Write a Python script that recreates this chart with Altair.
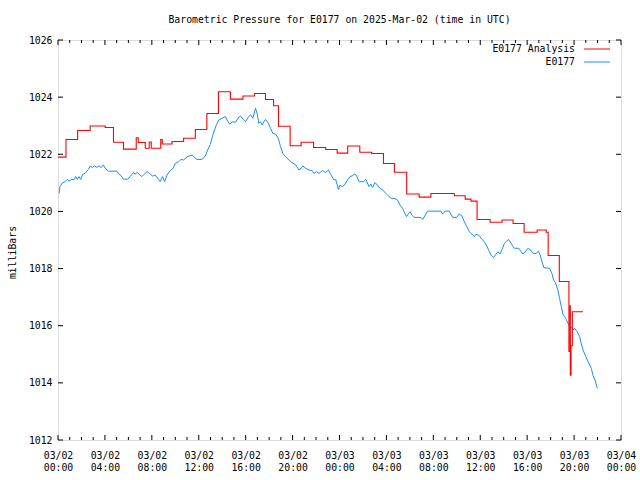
import altair as alt
import pandas as pd

FONT = "DejaVu Sans Mono"
FS = 9.8
BASE = pd.Timestamp("2025-03-02T00:00:00Z").value // 10**6
HOUR = 3600000

# E0177 Analysis (step series): hours after 03/02 00:00 UTC, pressure in mb
red_hours = [0, 0.68, 1.67, 2.74, 4.02, 4.73, 5.58, 6.67, 6.84, 7.44, 7.78, 7.95,
             8.76, 8.89, 9.72, 10.71, 11.71, 12.69, 13.68, 14.70, 15.77, 16.75,
             17.69, 18.38, 18.80, 19.79, 20.73, 21.79, 22.82, 23.80, 24.70, 25.73,
             26.75, 27.75, 28.68, 29.73, 30.79, 31.79, 33.79, 34.72, 35.21, 35.73,
             36.84, 37.86, 38.80, 39.74, 40.85, 41.62, 41.79, 42.74, 43.56, 43.66,
             43.68, 43.74, 43.85, 44.76]
red_p = [1021.90, 1022.52, 1022.83, 1022.99, 1022.94, 1022.42, 1022.18, 1022.58,
         1022.41, 1022.21, 1022.43, 1022.21, 1022.52, 1022.36, 1022.45, 1022.56,
         1022.87, 1023.43, 1024.19, 1023.93, 1024.04, 1024.13, 1023.92, 1023.70,
         1022.98, 1022.30, 1022.42, 1022.24, 1022.17, 1022.04, 1022.29, 1022.07,
         1022.03, 1021.68, 1021.37, 1020.61, 1020.50, 1020.63, 1020.55, 1020.43,
         1020.36, 1019.72, 1019.62, 1019.70, 1019.58, 1019.27, 1019.35, 1019.27,
         1018.46, 1017.55, 1015.10, 1016.70, 1014.27, 1015.30, 1016.49, 1016.49]

# E0177 observations
blue_hours = [0.09, 0.17, 0.37, 0.60, 0.79, 0.94, 1.17, 1.39, 1.51, 1.65, 1.79, 1.94,
              2.11, 2.31, 2.59, 2.74, 2.93, 3.10, 3.31, 3.50, 3.68, 3.87, 4.02, 4.30,
              5.02, 5.15, 5.38, 5.58, 5.96, 6.15, 6.44, 6.58, 6.73, 6.92, 7.15, 7.29,
              7.58, 7.80, 8.06, 8.29, 8.57, 8.72, 8.91, 9.09, 9.29, 9.57, 9.80, 10.00,
              10.28, 10.49, 10.71, 11.05, 11.43, 11.65, 11.85, 12.28, 12.56, 12.76,
              12.99, 13.22, 13.48, 13.70, 13.99, 14.27, 14.42, 14.64, 14.85, 15.13,
              15.41, 15.56, 15.79, 15.98, 16.26, 16.41, 16.61, 16.84, 16.98, 17.12,
              17.26, 17.41, 17.55, 17.69, 17.92, 18.12, 18.32, 18.55, 18.78, 18.97,
              19.17, 19.40, 19.83, 20.26, 20.54, 20.77, 20.88, 21.11, 21.39, 21.68,
              21.82, 22.03, 22.25, 22.54, 22.82, 23.05, 23.25, 23.53, 23.68, 23.91,
              24.04, 24.25, 24.47, 24.68, 24.90, 25.10, 25.32, 25.47, 25.67, 26.04,
              26.24, 26.52, 26.67, 26.81, 27.03, 27.24, 27.46, 27.67, 27.89, 28.09,
              28.38, 28.66, 28.95, 29.17, 29.38, 29.57, 29.72, 29.89, 30.03, 30.17,
              30.37, 30.94, 31.09, 31.37, 31.51, 32.65, 32.79, 32.99, 33.36, 33.65,
              33.99, 34.21, 34.44, 34.64, 34.85, 35.07, 35.30, 35.50, 35.64, 35.87,
              36.15, 36.35, 36.56, 36.73, 36.92, 37.12, 37.29, 37.50, 37.69, 37.86,
              38.06, 38.21, 38.40, 38.55, 38.72, 38.91, 39.29, 39.49, 39.63, 39.85,
              40.06, 40.28, 40.49, 40.77, 40.97, 41.11, 41.26, 41.43, 41.91, 42.11,
              42.25, 42.42, 42.62, 42.76, 42.91, 43.05, 43.19, 43.33, 43.48, 43.62,
              43.82, 43.91, 44.04, 44.27, 44.47, 44.62, 44.76, 44.98, 45.19, 45.47,
              45.61, 45.81, 45.98]
blue_p = [1020.63, 1020.87, 1021.00, 1021.04, 1021.12, 1021.06, 1021.12, 1021.12,
          1021.22, 1021.12, 1021.22, 1021.12, 1021.30, 1021.33, 1021.47, 1021.59,
          1021.54, 1021.60, 1021.54, 1021.60, 1021.53, 1021.63, 1021.51, 1021.41,
          1021.41, 1021.33, 1021.25, 1021.13, 1021.13, 1021.22, 1021.36, 1021.30,
          1021.37, 1021.30, 1021.22, 1021.28, 1021.39, 1021.33, 1021.24, 1021.27,
          1021.12, 1021.04, 1021.22, 1021.04, 1021.27, 1021.43, 1021.50, 1021.68,
          1021.74, 1021.82, 1021.80, 1021.92, 1021.97, 1021.89, 1021.82, 1021.82,
          1021.94, 1022.15, 1022.35, 1022.70, 1023.00, 1023.20, 1023.26, 1023.32,
          1023.20, 1023.05, 1023.14, 1023.12, 1023.30, 1023.34, 1023.22, 1023.14,
          1023.32, 1023.38, 1023.26, 1023.61, 1023.43, 1023.08, 1023.14, 1023.02,
          1023.14, 1023.22, 1023.10, 1022.91, 1022.73, 1022.71, 1022.56, 1022.27,
          1022.03, 1021.92, 1021.74, 1021.63, 1021.45, 1021.53, 1021.59, 1021.51,
          1021.45, 1021.43, 1021.33, 1021.39, 1021.33, 1021.43, 1021.36, 1021.45,
          1021.30, 1021.10, 1021.12, 1020.77, 1020.92, 1020.86, 1020.96, 1021.10,
          1021.22, 1021.25, 1021.31, 1021.24, 1021.04, 1021.04, 1021.12, 1020.87,
          1020.96, 1020.84, 1021.01, 1020.92, 1020.81, 1020.75, 1020.66, 1020.58,
          1020.46, 1020.46, 1020.40, 1020.22, 1020.11, 1019.93, 1019.82, 1019.93,
          1019.99, 1019.87, 1019.79, 1019.79, 1019.72, 1019.91, 1020.01, 1020.01,
          1019.91, 1020.01, 1020.01, 1019.79, 1019.79, 1019.91, 1019.84, 1019.64,
          1019.47, 1019.29, 1019.20, 1019.12, 1019.20, 1019.17, 1019.02, 1018.94,
          1018.79, 1018.63, 1018.47, 1018.39, 1018.47, 1018.59, 1018.51, 1018.67,
          1018.88, 1018.94, 1019.02, 1018.94, 1018.82, 1018.71, 1018.71, 1018.59,
          1018.51, 1018.59, 1018.71, 1018.65, 1018.53, 1018.53, 1018.61, 1018.47,
          1018.24, 1018.03, 1018.01, 1017.83, 1017.60, 1017.50, 1017.25, 1016.96,
          1016.67, 1016.40, 1016.32, 1016.22, 1016.08, 1015.99, 1015.94, 1015.85,
          1015.91, 1015.79, 1015.62, 1015.36, 1015.15, 1014.94, 1014.74, 1014.51,
          1014.27, 1014.07, 1013.81]

x_label_hours = list(range(0, 49, 4))
x_minor_hours = [h for h in range(0, 49) if h % 4 != 0]
y_ticks = [1012, 1014, 1016, 1018, 1020, 1022, 1024, 1026]
series_names = ["E0177 Analysis", "E0177"]
series_colors = ["#ff0000", "#1a8cff"]

W, H = 563, 400


def ms(hours):
    return [BASE + h * HOUR for h in hours]


red_df = pd.DataFrame({"t": ms(red_hours), "p": red_p})
blue_df = pd.DataFrame({"t": ms(blue_hours), "p": blue_p})
xmaj_df = pd.DataFrame({"t": ms(x_label_hours)})
xmin_df = pd.DataFrame({"t": ms(x_minor_hours)})
ytk_df = pd.DataFrame({"p": y_ticks})

xscale = alt.Scale(type="utc", domain=[BASE, BASE + 48 * HOUR], nice=False)
yscale = alt.Scale(domain=[1012, 1026], zero=False, nice=False)
xaxis = alt.Axis(
    values=ms(x_label_hours),
    labelExpr="[utcFormat(datum.value, '%m/%d'), utcFormat(datum.value, '%H:%M')]",
    ticks=False, domain=False, grid=False,
    labelFont=FONT, labelFontSize=FS, labelColor="black",
    labelPadding=10, labelLineHeight=12, labelFlush=False, labelOverlap=False,
    labelBound=False,
)
yaxis = alt.Axis(
    values=y_ticks, format="d", ticks=False, domain=False, grid=False,
    labelFont=FONT, labelFontSize=FS, labelColor="black", labelPadding=6,
    titleFont=FONT, titleFontSize=FS, titleFontWeight="normal", titleColor="black",
    titleX=-46, titleY=H / 2 + 12, titleAngle=270, titleAlign="center",
    titleBaseline="middle",
)


def X():
    return alt.X("t:T", scale=xscale, axis=xaxis, title=None)


def Y():
    return alt.Y("p:Q", scale=yscale, axis=yaxis, title="milliBars")


red = alt.Chart(red_df).mark_line(interpolate="step-after", color=series_colors[0],
                                  strokeWidth=1.1).encode(x=X(), y=Y())
blue = alt.Chart(blue_df).mark_line(color=series_colors[1], strokeWidth=1).encode(x=X(), y=Y())

MAJ, MIN = 5, 3
tick_layers = [
    alt.Chart(xmaj_df).mark_rule(color="black", strokeWidth=1).encode(
        x=X(), y=alt.value(H), y2=alt.value(H - MAJ)),
    alt.Chart(xmaj_df).mark_rule(color="black", strokeWidth=1).encode(
        x=X(), y=alt.value(0), y2=alt.value(MAJ)),
    alt.Chart(xmin_df).mark_rule(color="black", strokeWidth=1).encode(
        x=X(), y=alt.value(H), y2=alt.value(H - MIN)),
    alt.Chart(xmin_df).mark_rule(color="black", strokeWidth=1).encode(
        x=X(), y=alt.value(0), y2=alt.value(MIN)),
    alt.Chart(ytk_df).mark_rule(color="black", strokeWidth=1).encode(
        y=Y(), x=alt.value(0), x2=alt.value(MAJ)),
    alt.Chart(ytk_df).mark_rule(color="black", strokeWidth=1).encode(
        y=Y(), x=alt.value(W), x2=alt.value(W - MAJ)),
]

legend_layers = []
for i, (name, col) in enumerate(zip(series_names, series_colors)):
    ly = 9 + 13 * i
    legend_layers.append(
        alt.Chart(pd.DataFrame({"label": [name]})).mark_text(
            align="right", baseline="middle", font=FONT, fontSize=FS, color="black"
        ).encode(x=alt.value(517), y=alt.value(ly), text="label:N"))
    legend_layers.append(
        alt.Chart(pd.DataFrame({"label": [name]})).mark_rule(color=col, strokeWidth=1).encode(
            x=alt.value(526), x2=alt.value(552), y=alt.value(ly)))

chart = alt.layer(blue, red, *tick_layers, *legend_layers).properties(
    width=W, height=H,
    title=alt.Title("Barometric Pressure for E0177 on 2025-Mar-02 (time in UTC)",
                    font=FONT, fontSize=FS, fontWeight="normal", color="black",
                    anchor="middle", offset=10),
    autosize=alt.AutoSizeParams(type="none"),
    padding={"left": 58, "top": 40, "right": 19, "bottom": 40},
).configure_view(stroke="black", strokeWidth=1).configure(background="white")

chart.save("out.html", embed_options={"renderer": "svg", "actions": False})
